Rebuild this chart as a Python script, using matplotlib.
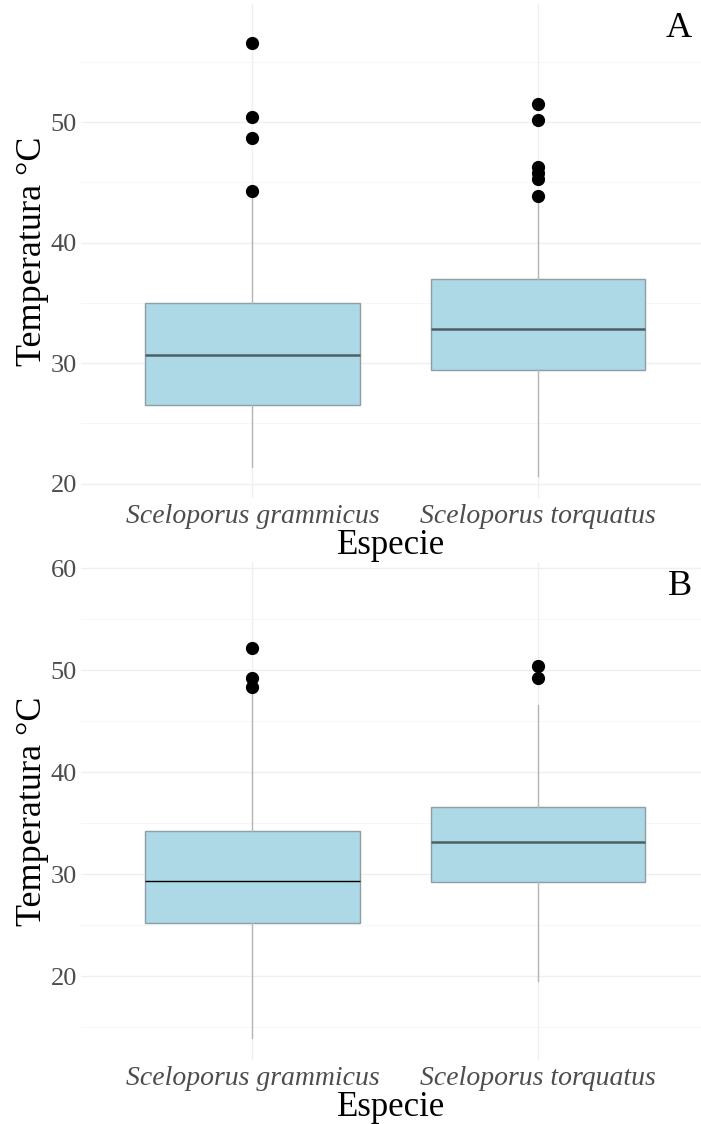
import matplotlib.pyplot as plt

plt.rcParams['font.family'] = ['Liberation Serif', 'DejaVu Serif']

especies = ["Sceloporus grammicus", "Sceloporus torquatus"]

# Panel A: box statistics per species
a_whislo = [21.4, 20.6]
a_q1 = [26.5, 29.4]
a_med = [30.7, 32.8]
a_q3 = [35.0, 37.0]
a_whishi = [44.3, 43.9]
a_fliers = [[44.3, 48.7, 50.4, 56.6],
            [43.9, 45.3, 45.8, 46.3, 50.15, 51.5]]

# Panel B: box statistics per species
b_whislo = [14.0, 19.5]
b_q1 = [25.2, 29.2]
b_med = [29.3, 33.2]
b_q3 = [34.2, 36.6]
b_whishi = [48.4, 46.6]
b_fliers = [[48.4, 49.2, 52.2],
            [49.2, 50.4]]

a_yticks = [20, 30, 40, 50]
b_yticks = [20, 30, 40, 50, 60]

FILL = "#add8e6"
EDGE = "#8e9ea5"
WHISK = "#b5b5b5"
GRID = "#efefef"
TICK = "#4d4d4d"


def panel(ax, whislo, q1, med, q3, whishi, fliers, median_styles,
          yticks, yminor, ylim, tag):
    stats = []
    for i, name in enumerate(especies):
        stats.append(dict(label=name, whislo=whislo[i], q1=q1[i], med=med[i],
                          q3=q3[i], whishi=whishi[i], fliers=fliers[i]))
    res = ax.bxp(stats, positions=[1, 2], widths=0.75, showcaps=False,
                 patch_artist=True,
                 boxprops=dict(facecolor=FILL, edgecolor=EDGE, linewidth=1.0),
                 whiskerprops=dict(color=WHISK, linewidth=1.0),
                 flierprops=dict(marker="o", markerfacecolor="black",
                                 markeredgecolor="black", markersize=8.5),
                 zorder=3)
    for line, (col, lw) in zip(res["medians"], median_styles):
        line.set_color(col)
        line.set_linewidth(lw)

    ax.set_xlim(0.4, 2.57)
    ax.set_ylim(*ylim)
    ax.set_yticks(yticks)
    ax.set_yticks(yminor, minor=True)
    ax.set_xticks([1, 2])
    ax.set_xticklabels(especies, fontstyle="italic", fontsize=20, color=TICK)
    ax.tick_params(axis="y", labelsize=19, labelcolor=TICK, length=0, pad=3)
    ax.tick_params(axis="x", length=0, pad=4)
    ax.tick_params(which="minor", length=0)
    ax.grid(True, which="major", color=GRID, linewidth=0.9)
    ax.grid(True, which="minor", axis="y", color="#f6f6f6", linewidth=0.7)
    ax.set_axisbelow(True)
    for s in ax.spines.values():
        s.set_visible(False)

    ax.set_xlabel("Especie", fontsize=25, labelpad=0)
    ax.set_ylabel("Temperatura °C", fontsize=26)
    ax.yaxis.set_label_coords(-0.052, 0.5)
    ax.text(0.985, 0.95, tag, transform=ax.transAxes, ha="right",
            va="center", fontsize=26)


fig = plt.figure(figsize=(7.01, 11.24), dpi=100)
ax_a = fig.add_axes([0.1156, 0.5569, 0.8844, 0.4395])
ax_b = fig.add_axes([0.1156, 0.0569, 0.8844, 0.4431])

panel(ax_a, a_whislo, a_q1, a_med, a_q3, a_whishi, a_fliers,
      [("#4f5f66", 1.8), ("#4f5f66", 1.8)],
      a_yticks, [25, 35, 45, 55], (18.8, 59.8), "A")
panel(ax_b, b_whislo, b_q1, b_med, b_q3, b_whishi, b_fliers,
      [("black", 1.0), ("#4f5f66", 1.8)],
      b_yticks, [15, 25, 35, 45, 55], (11.8, 60.6), "B")

fig.savefig("out.png", dpi=100)
